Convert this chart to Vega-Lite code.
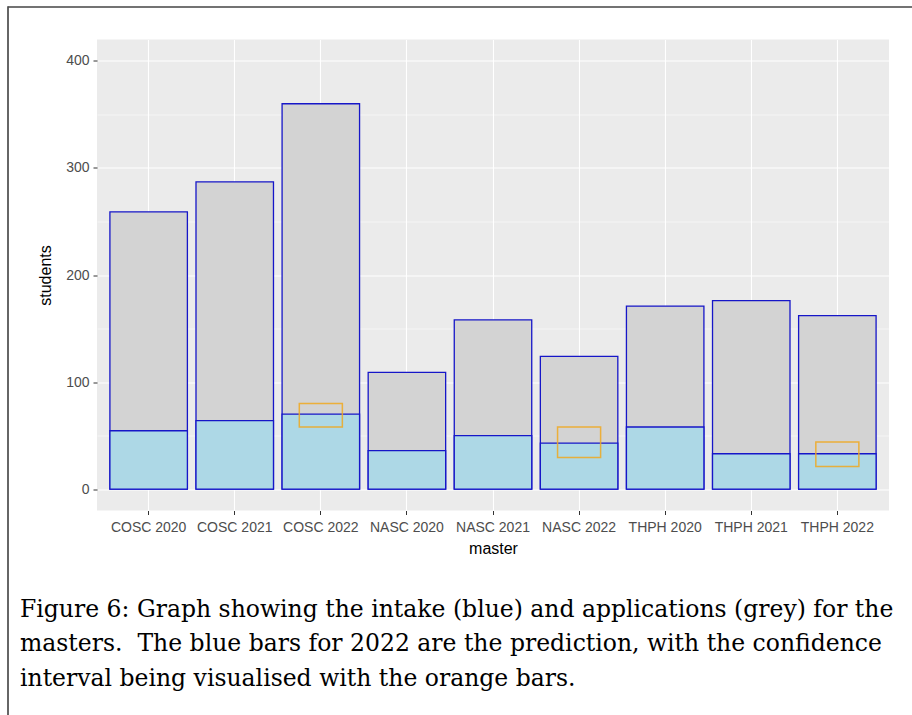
{
  "$schema": "https://vega.github.io/schema/vega-lite/v6.json",
  "padding": {"left": 7, "top": 6, "right": 0, "bottom": 0},
  "background": "white",
  "config": {"view": {"stroke": null}},
  "bounds": "flush",
  "spacing": 0,
  "hconcat": [
    {
      "width": 0.001, "height": 709,
      "data": {"values": []},
      "mark": "rule", "encoding": {},
      "view": {"stroke": "#333333", "strokeWidth": 1.5}
    },
    {
      "bounds": "flush",
      "spacing": 31.5,
      "vconcat": [
        {
          "width": 905, "height": 0.001,
          "data": {"values": []},
          "mark": "rule", "encoding": {},
          "view": {"stroke": "#444444", "strokeWidth": 1.5}
        },
        {
          "bounds": "flush",
          "spacing": 87,
          "hconcat": [
            {"width": 0.001, "height": 0.001, "data": {"values": []}, "mark": "rule", "encoding": {}},
            {
              "width": 792,
              "height": 471,
              "view": {"fill": "#EBEBEB", "stroke": null},
              "data": {
                "values": [
                  {"master": "COSC 2020", "applications": 259, "intake": 54.5, "lower": null, "upper": null},
                  {"master": "COSC 2021", "applications": 287, "intake": 64, "lower": null, "upper": null},
                  {"master": "COSC 2022", "applications": 360, "intake": 70, "lower": 58, "upper": 80},
                  {"master": "NASC 2020", "applications": 109, "intake": 36, "lower": null, "upper": null},
                  {"master": "NASC 2021", "applications": 158, "intake": 50, "lower": null, "upper": null},
                  {"master": "NASC 2022", "applications": 124, "intake": 43, "lower": 29.5, "upper": 58},
                  {"master": "THPH 2020", "applications": 171, "intake": 58, "lower": null, "upper": null},
                  {"master": "THPH 2021", "applications": 176, "intake": 33, "lower": null, "upper": null},
                  {"master": "THPH 2022", "applications": 162, "intake": 33, "lower": 21, "upper": 44}
                ]
              },
              "title": {
                "text": [
                  "Figure 6: Graph showing the intake (blue) and applications (grey) for the",
                  "masters.\u00a0 The blue bars for 2022 are the prediction, with the confidence",
                  "interval being visualised with the orange bars."
                ],
                "orient": "bottom",
                "anchor": "start",
                "frame": "group",
                "font": "DejaVu Serif",
                "fontSize": 23.5,
                "fontWeight": "normal",
                "color": "black",
                "lineHeight": 34.8,
                "offset": 41,
                "dx": -77
              },
              "encoding": {
                "x": {
                  "field": "master",
                  "type": "nominal",
                  "sort": null,
                  "scale": {"paddingInner": 0.1, "paddingOuter": 0.15},
                  "axis": {
                    "title": "master",
                    "grid": true,
                    "gridColor": "white",
                    "gridWidth": 1.1,
                    "bandPosition": 0.5,
                    "domain": false,
                    "ticks": true,
                    "tickColor": "#333333",
                    "tickSize": 4,
                    "labelAngle": 0,
                    "labelColor": "#4D4D4D",
                    "labelFont": "Liberation Sans",
                    "labelFontSize": 14,
                    "labelPadding": 6,
                    "titleFont": "Liberation Sans",
                    "titleFontSize": 16,
                    "titleFontWeight": "normal",
                    "titleColor": "black",
                    "titlePadding": 6
                  }
                }
              },
              "layer": [
                {
                  "mark": {"type": "bar", "fill": "#D3D3D3", "stroke": "#1616C8", "strokeWidth": 1.3},
                  "encoding": {
                    "y": {
                      "field": "applications",
                      "type": "quantitative",
                      "scale": {"domain": [-20, 420], "nice": false, "zero": false},
                      "axis": {
                        "title": "students",
                        "values": [0, 100, 200, 300, 400],
                        "grid": true,
                        "gridColor": "white",
                        "gridWidth": 1.1,
                        "domain": false,
                        "tickColor": "#333333",
                        "tickSize": 4,
                        "labelColor": "#4D4D4D",
                        "labelFont": "Liberation Sans",
                        "labelFontSize": 14,
                        "labelPadding": 4,
                        "titleFont": "Liberation Sans",
                        "titleFontSize": 16,
                        "titleFontWeight": "normal",
                        "titleColor": "black",
                        "titlePadding": 12
                      }
                    },
                    "y2": {"datum": 0}
                  }
                },
                {
                  "mark": {"type": "bar", "fill": "#ADD8E6", "stroke": "#1616C8", "strokeWidth": 1.3},
                  "encoding": {
                    "y": {"field": "intake", "type": "quantitative", "axis": null},
                    "y2": {"datum": 0}
                  }
                },
                {
                  "mark": {"type": "bar", "fill": "transparent", "stroke": "#F0A81E", "strokeWidth": 1.5, "strokeOpacity": 0.85, "width": {"band": 0.5556}},
                  "encoding": {
                    "y": {
                      "field": "lower",
                      "type": "quantitative",
                      "axis": {
                        "orient": "right",
                        "values": [50, 150, 250, 350],
                        "grid": true,
                        "gridColor": "white",
                        "gridWidth": 0.55,
                        "labels": false,
                        "ticks": false,
                        "domain": false,
                        "title": null
                      }
                    },
                    "y2": {"field": "upper"}
                  }
                }
              ],
              "resolve": {"axis": {"y": "independent"}}
            }
          ]
        }
      ]
    }
  ]
}
